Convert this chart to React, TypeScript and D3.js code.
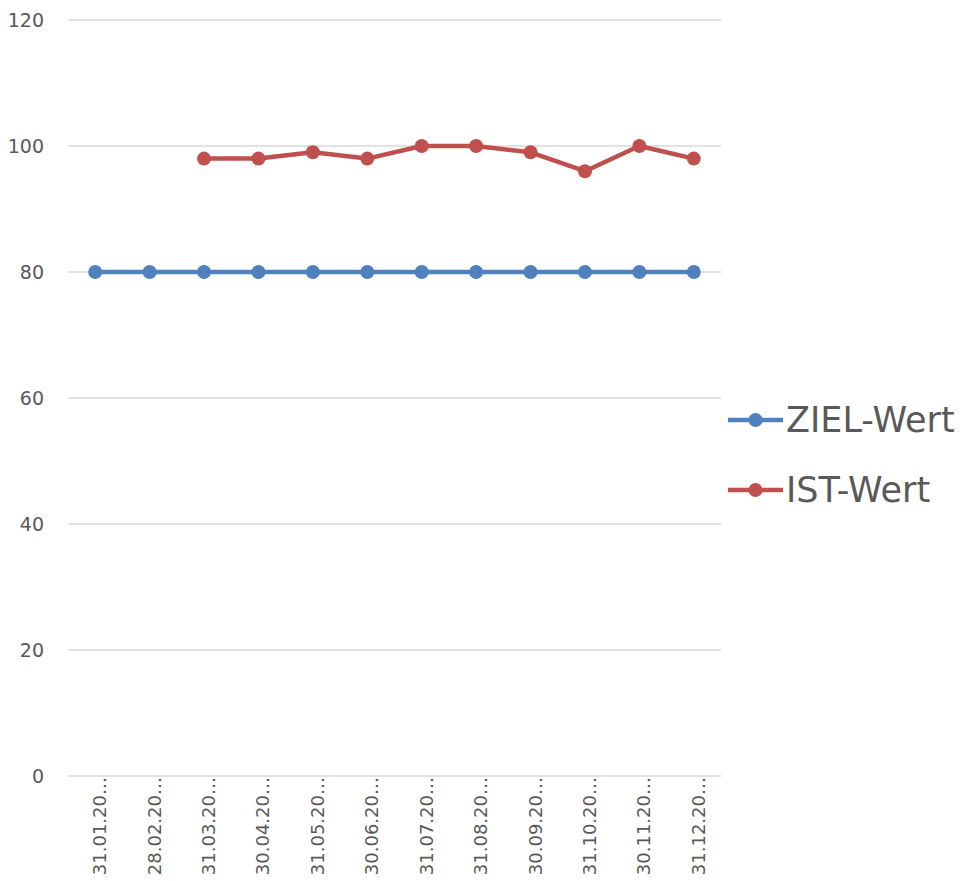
import { useEffect, useRef } from "react";
import * as d3 from "d3";

const dates = [
  "31.01.2020", "28.02.2020", "31.03.2020", "30.04.2020", "31.05.2020", "30.06.2020",
  "31.07.2020", "31.08.2020", "30.09.2020", "31.10.2020", "30.11.2020", "31.12.2020",
];
const zielWert = [80, 80, 80, 80, 80, 80, 80, 80, 80, 80, 80, 80];
const istWert: (number | null)[] = [null, null, 98, 98, 99, 98, 100, 100, 99, 96, 100, 98];
const yTicks = [0, 20, 40, 60, 80, 100, 120];

const series = [
  { name: "ZIEL-Wert", values: zielWert, color: "#4F81BD" },
  { name: "IST-Wert", values: istWert, color: "#C0504D" },
];

export default function App() {
  const ref = useRef<SVGSVGElement>(null);

  useEffect(() => {
    const svg = d3.select(ref.current);
    svg.selectAll("*").remove();

    const x = d3.scaleBand().domain(dates).range([68, 721]);
    const y = d3.scaleLinear().domain([0, 120]).range([776, 20]);
    const cx = (d: string) => (x(d) as number) + x.bandwidth() / 2;

    const font = "'DejaVu Sans', sans-serif";

    // gridlines
    svg.append("g")
      .selectAll("line")
      .data(yTicks)
      .join("line")
      .attr("x1", 68)
      .attr("x2", 721)
      .attr("y1", (d) => y(d))
      .attr("y2", (d) => y(d))
      .attr("stroke", "#d9d9d9")
      .attr("stroke-width", 1.3);

    // y labels
    svg.append("g")
      .selectAll("text")
      .data(yTicks)
      .join("text")
      .attr("x", 44)
      .attr("y", (d) => y(d))
      .attr("dy", "0.35em")
      .attr("text-anchor", "end")
      .attr("font-family", font)
      .attr("font-size", 19)
      .attr("fill", "#595959")
      .text((d) => d);

    // x labels
    svg.append("g")
      .selectAll("text")
      .data(dates)
      .join("text")
      .attr("transform", (d) => `translate(${cx(d) + 11},${777}) rotate(-90)`)
      .attr("text-anchor", "end")
      .attr("font-family", font)
      .attr("font-size", 18)
      .attr("fill", "#595959")
      .text((d) => d.slice(0, 8) + "…");

    const line = d3
      .line<number | null>()
      .defined((d) => d !== null)
      .x((d, i) => cx(dates[i]))
      .y((d) => y(d as number));

    series.forEach((s) => {
      const g = svg.append("g");
      g.append("path")
        .attr("d", line(s.values))
        .attr("fill", "none")
        .attr("stroke", s.color)
        .attr("stroke-width", 4.5)
        .attr("stroke-linejoin", "round");
      g.selectAll("circle")
        .data(s.values.map((v, i) => ({ v, d: dates[i] })).filter((p) => p.v !== null))
        .join("circle")
        .attr("cx", (p) => cx(p.d))
        .attr("cy", (p) => y(p.v as number))
        .attr("r", 7)
        .attr("fill", s.color);
    });

    // legend
    const legend = svg.append("g");
    series.forEach((s, i) => {
      const ly = 420 + i * 70;
      legend.append("line")
        .attr("x1", 728)
        .attr("x2", 783)
        .attr("y1", ly)
        .attr("y2", ly)
        .attr("stroke", s.color)
        .attr("stroke-width", 4.5);
      legend.append("circle")
        .attr("cx", 755.5)
        .attr("cy", ly)
        .attr("r", 7)
        .attr("fill", s.color);
      legend.append("text")
        .attr("x", 786)
        .attr("y", ly)
        .attr("dy", "0.35em")
        .attr("font-family", font)
        .attr("font-size", 35)
        .attr("fill", "#595959")
        .text(s.name);
    });
  }, []);

  return (
    <svg
      ref={ref}
      width={962}
      height={881}
      style={{ position: "absolute", left: 0, top: 0, background: "#fff" }}
    />
  );
}
